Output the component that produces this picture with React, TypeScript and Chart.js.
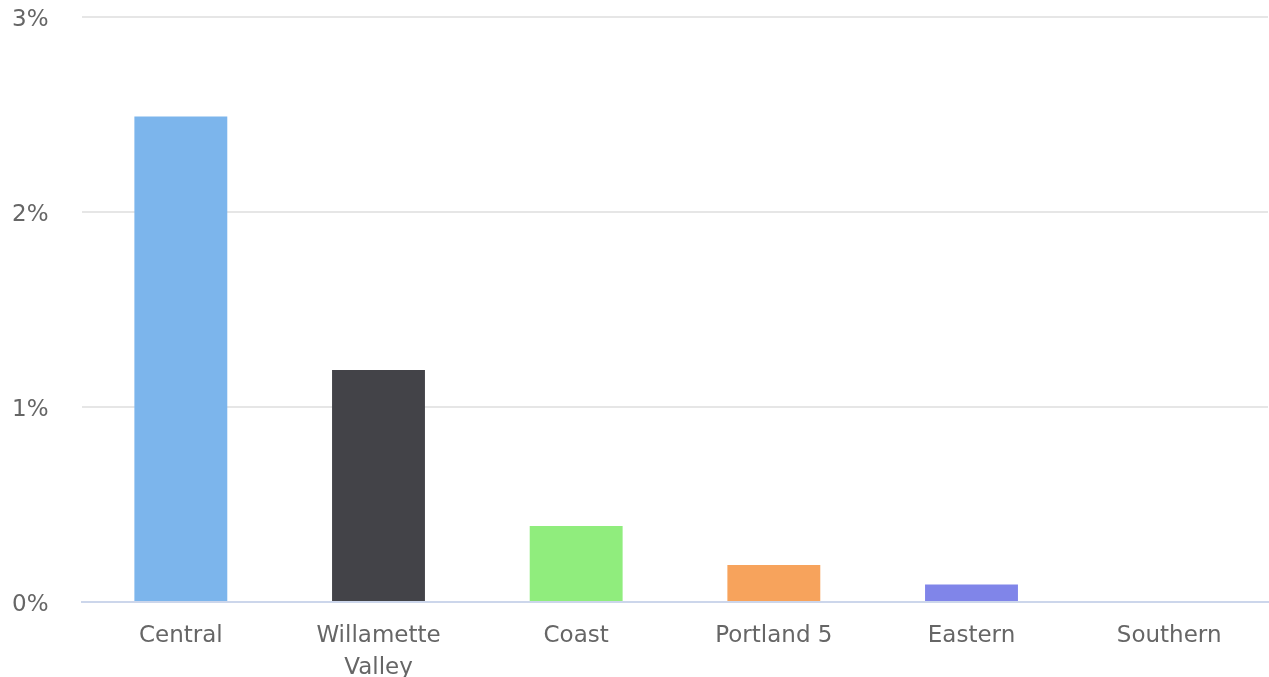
import React, { useEffect, useRef } from "react";
import { Chart, registerables } from "chart.js";

Chart.register(...registerables);

const categories: (string | string[])[] = ["Central", ["Willamette", "Valley"], "Coast", "Portland 5", "Eastern", "Southern"];
const values: number[] = [2.49, 1.19, 0.39, 0.19, 0.09, 0];
const barColors: string[] = ["#7cb5ec", "#434348", "#90ed7d", "#f7a35c", "#8085e9", "#f15c80"];
const yTicks: number[] = [0, 1, 2, 3];

export default function App() {
  const ref = useRef<HTMLCanvasElement | null>(null);
  useEffect(() => {
    if (!ref.current) return;
    const font = { family: "'DejaVu Sans', sans-serif", size: 23 };
    const chart = new Chart(ref.current, {
      type: "bar",
      data: {
        labels: categories,
        datasets: [
          {
            data: values,
            backgroundColor: barColors,
            borderWidth: 0,
            barPercentage: 0.47,
            categoryPercentage: 1,
          },
        ],
      },
      options: {
        animation: false,
        responsive: false,
        maintainAspectRatio: false,
        layout: { padding: { top: 17, left: 12, right: 1, bottom: 0 } },
        plugins: { legend: { display: false }, tooltip: { enabled: false } },
        scales: {
          x: {
            grid: { display: false, drawTicks: false },
            border: { display: true, color: "#ccd6eb", width: 2 },
            ticks: {
              color: "#666666",
              font: { ...font, lineHeight: 1.35 },
              padding: 19,
              maxRotation: 0,
              autoSkip: false,
            },
            afterFit: (s: any) => {
              s.height = 75;
            },
          },
          y: {
            min: 0,
            max: 3,
            afterBuildTicks: (s: any) => {
              s.ticks = yTicks.map((v) => ({ value: v }));
            },
            grid: {
              color: (ctx: any) => (ctx.tick && ctx.tick.value === 0 ? "#ccd6eb" : "#e6e6e6"),
              lineWidth: 2,
              drawTicks: false,
            },
            border: { display: false },
            ticks: {
              color: "#666666",
              font,
              crossAlign: "far",
              padding: 0,
              labelOffset: 3,
              callback: (v: any) => v + "%",
            },
            afterFit: (s: any) => {
              s.width = 70;
            },
          },
        },
      },
    });
    return () => chart.destroy();
  }, []);
  return (
    <div style={{ position: "absolute", left: 0, top: 0, width: 1269, height: 677, background: "#fff" }}>
      <canvas ref={ref} width={1269} height={677} style={{ width: 1269, height: 677, display: "block" }} />
    </div>
  );
}
